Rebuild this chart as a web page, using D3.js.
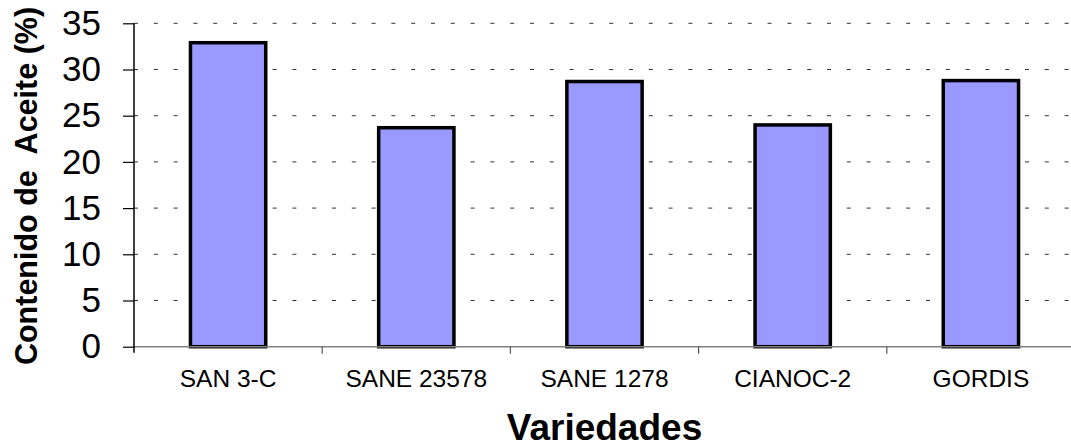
<!DOCTYPE html>
<html>
<head>
<meta charset="utf-8">
<script src="https://cdn.jsdelivr.net/npm/d3@7"></script>
<style>
  body { margin: 0; background: #fff; }
  svg { display: block; font-family: "Liberation Sans", Arial, sans-serif; }
</style>
</head>
<body>
<svg width="1071" height="446"></svg>
<script>
let width = 1071;
let height = 446;

let categories = ['SAN 3-C', 'SANE 23578', 'SANE 1278', 'CIANOC-2', 'GORDIS'];
let values = [32.9, 23.7, 28.7, 24.0, 28.8];
let yTicks = [0, 5, 10, 15, 20, 25, 30, 35];

let plotLeft = 134, plotRight = 1075, plotTop = 23.3, plotBottom = 346.7;

let xScale = d3.scaleBand()
                .domain(categories)
                .range([plotLeft, plotRight])
                .padding(0);

let yScale = d3.scaleLinear()
                .domain([0, 35])
                .range([plotBottom, plotTop]);

let svg = d3.select('svg')
            .attr('width', width)
            .attr('height', height);

// dashed gridlines
svg.append('g')
    .selectAll('line')
    .data(yTicks.filter(d => d > 0))
    .enter()
    .append('line')
        .attr('x1', plotLeft)
        .attr('x2', width)
        .attr('y1', d => yScale(d))
        .attr('y2', d => yScale(d))
        .attr('stroke', '#333')
        .attr('stroke-width', 1)
        .attr('stroke-dasharray', '4,15.8');

// bars
let barWidth = xScale.bandwidth() * 0.4;
svg.append('g')
    .selectAll('rect')
    .data(categories)
    .enter()
    .append('rect')
        .attr('x', d => xScale(d) + (xScale.bandwidth() - barWidth) / 2)
        .attr('y', (d, i) => yScale(values[i]))
        .attr('width', barWidth)
        .attr('height', (d, i) => plotBottom - yScale(values[i]))
        .attr('fill', '#9999ff')
        .attr('stroke', '#000')
        .attr('stroke-width', 3.5);

// x axis line and boundary ticks
let xAxisG = svg.append('g');
xAxisG.append('line')
    .attr('x1', plotLeft)
    .attr('x2', width)
    .attr('y1', plotBottom)
    .attr('y2', plotBottom)
    .attr('stroke', '#808080')
    .attr('stroke-width', 1.5);

xAxisG.selectAll('.bound')
    .data(categories.slice(1))
    .enter()
    .append('line')
        .classed('bound', true)
        .attr('x1', d => xScale(d))
        .attr('x2', d => xScale(d))
        .attr('y1', plotBottom)
        .attr('y2', plotBottom + 7)
        .attr('stroke', '#555')
        .attr('stroke-width', 1.2);

// category labels
svg.append('g')
    .attr('transform', `translate(0,${plotBottom})`)
    .call(d3.axisBottom(xScale).tickSize(0).tickPadding(23))
    .call(g => g.select('.domain').remove())
    .selectAll('text')
        .attr('font-size', 24.5)
        .attr('font-family', '"Liberation Sans", Arial, sans-serif')
        .attr('fill', '#000');

// y axis
svg.append('g')
    .attr('transform', `translate(${plotLeft},0)`)
    .call(d3.axisLeft(yScale).tickValues(yTicks).tickSize(11).tickPadding(22))
    .call(g => g.select('.domain').remove())
    .call(g => g.selectAll('.tick line').attr('stroke', '#000').attr('stroke-width', 1.2))
    .selectAll('text')
        .attr('font-size', 35)
        .attr('font-family', '"Liberation Sans", Arial, sans-serif')
        .attr('fill', '#000');

svg.append('line')
    .attr('x1', plotLeft)
    .attr('x2', plotLeft)
    .attr('y1', plotTop)
    .attr('y2', plotBottom + 6)
    .attr('stroke', '#000')
    .attr('stroke-width', 1.5);

// axis titles
svg.append('text')
    .text('Variedades')
    .attr('x', (plotLeft + plotRight) / 2)
    .attr('y', 439.5)
    .attr('text-anchor', 'middle')
    .attr('font-size', 37)
    .attr('font-weight', 'bold');

svg.append('text')
    .text('Contenido de\u00a0 Aceite (%)')
    .attr('transform', 'translate(37,186) rotate(-90)')
    .attr('text-anchor', 'middle')
    .attr('font-size', 30.5)
    .attr('font-weight', 'bold');
</script>
</body>
</html>
